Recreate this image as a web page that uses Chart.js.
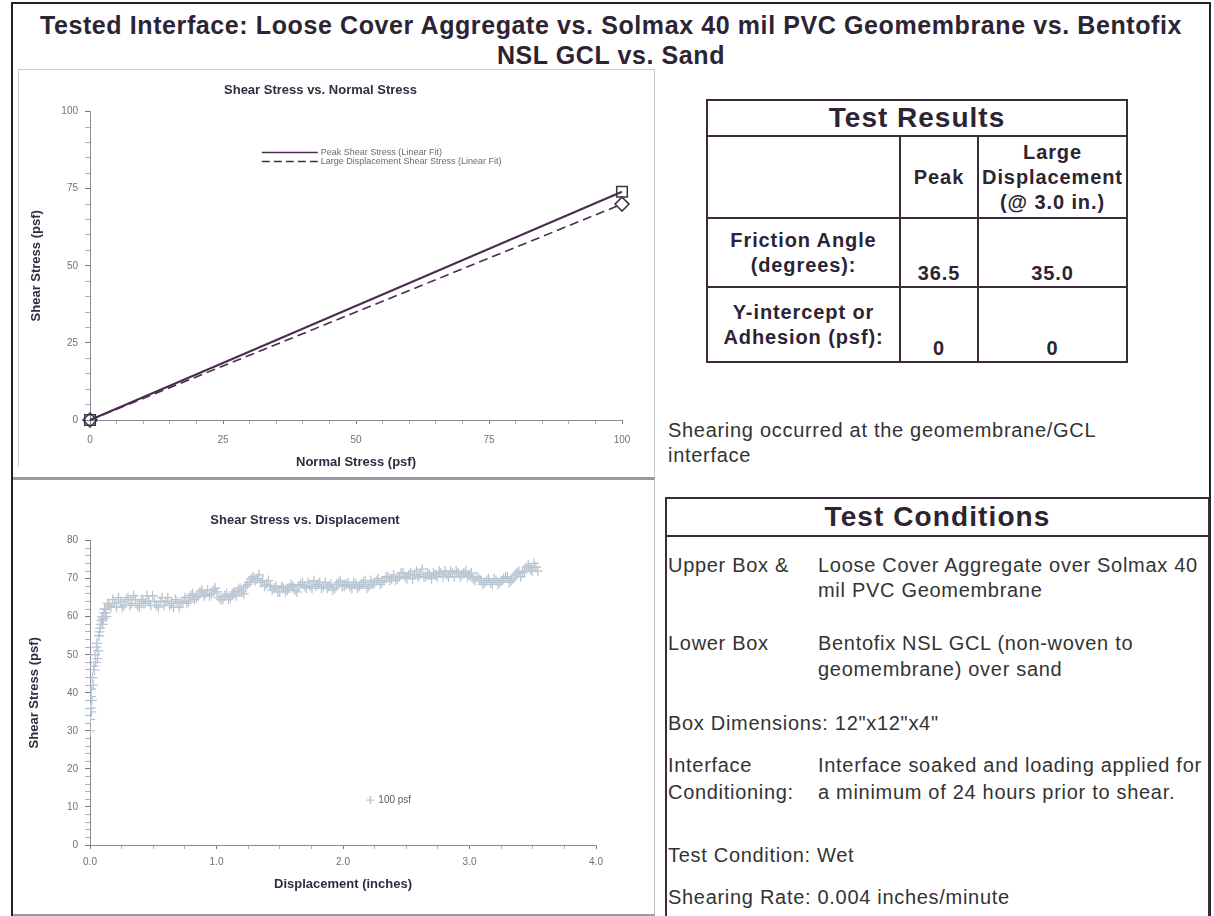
<!DOCTYPE html>
<html>
<head>
<meta charset="utf-8">
<script src="https://cdn.jsdelivr.net/npm/chart.js@4.4.1/dist/chart.umd.min.js"></script>
<style>
body { margin:0; width:1214px; height:916px; background:#fff; overflow:hidden; position:relative;
       font-family:"Liberation Sans", Arial, sans-serif; color:#333; }
.frame { position:absolute; left:11px; top:2px; width:1196px; height:940px; border:2px solid #222; border-bottom:none; }
.title { position:absolute; left:12px; width:1198px; top:10px; text-align:center; font-weight:bold;
         font-size:25px; letter-spacing:0.6px; line-height:30px; color:#2d2433; }
.panelTop { position:absolute; left:18px; top:69px; width:636px; height:397px; border:1px solid #c9c9d2; border-right:none; border-bottom:none; }
.panelBottom { position:absolute; left:13px; top:477px; width:641px; height:434px; border-top:3px solid #9a9aa6; border-right:1px solid #b8b8c4; border-bottom:2px solid #9a9aa6; }
.vline { position:absolute; left:654px; top:69px; width:1px; height:409px; background:#c9c9d2; }
.chartBox { position:absolute; }
table.results { position:absolute; left:706px; top:99px; border-collapse:collapse; table-layout:fixed; color:#2d2433; }
table.results td, table.results th { border:2px solid #3b2b3b; padding:0; text-align:center; font-weight:bold;
       font-size:20px; letter-spacing:0.9px; line-height:25px; white-space:nowrap; }
table.results th { font-size:28px; letter-spacing:1px; height:34px; line-height:32px; }
.r2 td { height:80px; }
.r3 td { height:67px; }
.r4 td { height:73px; }
td.v { vertical-align:bottom; padding-bottom:9px; }
.note { position:absolute; left:668px; font-size:20px; letter-spacing:0.7px; line-height:26px; color:#333; white-space:nowrap; }
.cond { position:absolute; left:665px; top:497px; width:541px; height:440px; border:2px solid #3b2b3b; border-bottom:none; }
.condHead { height:36px; border-bottom:2px solid #3b2b3b; text-align:center; font-weight:bold; font-size:28px;
            letter-spacing:1.1px; line-height:36px; color:#2d2433; }
.c2 { left:818px; }
</style>
</head>
<body>
<div class="frame"></div>
<div class="title">Tested Interface: Loose Cover Aggregate vs. Solmax 40 mil PVC Geomembrane vs. Bentofix<br>NSL GCL vs. Sand</div>

<div class="panelTop"></div>
<div class="vline"></div>
<div class="panelBottom"></div>

<div class="chartBox" style="left:19px; top:70px; width:635px; height:402px;"><canvas id="fitChart"></canvas></div>
<div class="chartBox" style="left:14px; top:481px; width:640px; height:431px;"><canvas id="dispChart"></canvas></div>

<table class="results">
  <colgroup><col style="width:193px"><col style="width:78px"><col style="width:149px"></colgroup>
  <tr><th colspan="3">Test Results</th></tr>
  <tr class="r2"><td></td><td>Peak</td><td>Large<br>Displacement<br>(@ 3.0 in.)</td></tr>
  <tr class="r3"><td>Friction Angle<br>(degrees):</td><td class="v">36.5</td><td class="v">35.0</td></tr>
  <tr class="r4"><td>Y-intercept or<br>Adhesion (psf):</td><td class="v">0</td><td class="v">0</td></tr>
</table>

<div class="note" style="top:417px;">Shearing occurred at the geomembrane/GCL</div>
<div class="note" style="top:442px;">interface</div>

<div class="cond"><div class="condHead">Test Conditions</div></div>
<div class="note" style="top:552px;">Upper Box &amp;</div>
<div class="note c2" style="top:552px;">Loose Cover Aggregate over Solmax 40</div>
<div class="note c2" style="top:577px;">mil PVC Geomembrane</div>
<div class="note" style="top:630px;">Lower Box</div>
<div class="note c2" style="top:630px;">Bentofix NSL GCL (non-woven to</div>
<div class="note c2" style="top:656px;">geomembrane) over sand</div>
<div class="note" style="top:710px;">Box Dimensions: 12"x12"x4"</div>
<div class="note" style="top:752px;">Interface</div>
<div class="note" style="top:779px;">Conditioning:</div>
<div class="note c2" style="top:752px;">Interface soaked and loading applied for</div>
<div class="note c2" style="top:779px;">a minimum of 24 hours prior to shear.</div>
<div class="note" style="top:842px;">Test Condition: Wet</div>
<div class="note" style="top:884px;">Shearing Rate: 0.004 inches/minute</div>

<script>
// shear vs normal stress (linear fits)
const normalStress = [0, 100];
const peakShear = [0, 74];
const largeDispShear = [0, 70];

// shear stress vs displacement, 100 psf normal load (two interleaved passes of readings)
const displacement = [
  0.00, 0.005, 0.01, 0.015, 0.02, 0.03, 0.04, 0.05, 0.06, 0.07, 0.08, 0.09, 0.10, 0.11, 0.12, 0.13,
  0.15, 0.18, 0.21, 0.24, 0.27, 0.30, 0.33, 0.36, 0.39, 0.42, 0.45, 0.48, 0.51, 0.54, 0.57, 0.60,
  0.63, 0.66, 0.69, 0.72, 0.75, 0.78, 0.81, 0.84, 0.87, 0.90, 0.93, 0.96, 0.99, 1.02, 1.05, 1.08,
  1.11, 1.14, 1.17, 1.20, 1.23, 1.26, 1.29, 1.32, 1.35, 1.38, 1.41, 1.44, 1.47, 1.50, 1.53, 1.56,
  1.59, 1.62, 1.65, 1.68, 1.71, 1.74, 1.77, 1.80, 1.83, 1.86, 1.89, 1.92, 1.95, 1.98, 2.01, 2.04,
  2.07, 2.10, 2.13, 2.16, 2.19, 2.22, 2.25, 2.28, 2.31, 2.34, 2.37, 2.40, 2.43, 2.46, 2.49, 2.52,
  2.55, 2.58, 2.61, 2.64, 2.67, 2.70, 2.73, 2.76, 2.79, 2.82, 2.85, 2.88, 2.91, 2.94, 2.97, 3.00,
  3.03, 3.06, 3.09, 3.12, 3.15, 3.18, 3.21, 3.24, 3.27, 3.30, 3.33, 3.36, 3.39, 3.42, 3.45, 3.48,
  3.51, 3.54,
  0.002, 0.008, 0.012, 0.025, 0.035, 0.045, 0.055, 0.065, 0.075, 0.085, 0.095, 0.105, 0.115, 0.125, 0.14,
  0.165, 0.195, 0.225, 0.255, 0.285, 0.315, 0.345, 0.375, 0.405, 0.435,
  0.465, 0.495, 0.525, 0.555, 0.585, 0.615, 0.645, 0.675, 0.705, 0.735,
  0.765, 0.795, 0.825, 0.855, 0.885, 0.915, 0.945, 0.975, 1.005, 1.035,
  1.065, 1.095, 1.125, 1.155, 1.185, 1.215, 1.245, 1.275, 1.305, 1.335,
  1.365, 1.395, 1.425, 1.455, 1.485, 1.515, 1.545, 1.575, 1.605, 1.635,
  1.665, 1.695, 1.725, 1.755, 1.785, 1.815, 1.845, 1.875, 1.905, 1.935,
  1.965, 1.995, 2.025, 2.055, 2.085, 2.115, 2.145, 2.175, 2.205, 2.235,
  2.265, 2.295, 2.325, 2.355, 2.385, 2.415, 2.445, 2.475, 2.505, 2.535,
  2.565, 2.595, 2.625, 2.655, 2.685, 2.715, 2.745, 2.775, 2.805, 2.835,
  2.865, 2.895, 2.925, 2.955, 2.985, 3.015, 3.045, 3.075, 3.105, 3.135,
  3.165, 3.195, 3.225, 3.255, 3.285, 3.315, 3.345, 3.375, 3.405, 3.435,
  3.465, 3.495, 3.525
];
const shearStress = [
  30, 36, 41, 38, 44, 47, 50, 52, 49, 55, 57, 59, 58, 61, 62, 60,
  63, 64.5, 62.5, 64, 63, 65, 63.5, 64.5, 62.5, 64, 65.5, 63, 64, 62.5, 65, 64,
  63, 62.5, 64, 63.5, 65, 64, 66, 65, 66.5, 65.5, 67, 66, 67.5, 65, 64.5, 66,
  65, 66.5, 67, 66.5, 68, 69, 70.5, 70, 69, 68, 69.5, 67, 68, 66.5, 67.5, 67,
  68.5, 67, 68, 69, 67.5, 68, 69.5, 68.5, 67.5, 69, 68, 67, 68.5, 69.5, 68, 69,
  67.5, 68.5, 68, 69, 67.5, 69.5, 69, 70, 69, 70.5, 69.5, 71, 70, 71.5, 70.5, 71,
  70, 72, 71, 70.5, 71.5, 70, 71, 72, 70.5, 71, 72, 70.5, 71.5, 71, 72, 71,
  70, 70.5, 69.5, 69, 70, 68.5, 69.5, 69, 70, 70.5, 69.5, 71, 72, 71.5, 73, 72.5,
  74, 72,
  33, 39, 35, 42, 46, 48, 53, 51, 56, 58, 60, 59.5, 62, 61, 63.5,
  62.5, 63.5, 65, 62.5, 64.5, 63, 65.5, 63, 64.5, 63.5,
  64, 65.5, 63, 64, 63, 65, 63.5, 64.5, 62.5, 64,
  63.5, 65.5, 64.5, 65.5, 67, 66, 65.5, 67, 66.5, 64.5,
  65.5, 64.5, 66, 65.5, 67.5, 66, 68.5, 70, 69.5, 71,
  69.5, 68.5, 68, 67.5, 66.5, 68, 66.5, 67.5, 68, 66.5,
  68.5, 68, 69, 67.5, 68, 69, 68, 67.5, 68.5, 67.5,
  69, 68, 68.5, 68, 69, 67.5, 68.5, 69.5, 68, 68.5,
  69.5, 68.5, 69.5, 70.5, 70, 69.5, 70.5, 71.5, 70, 71.5,
  71, 70.5, 72.5, 70.5, 71, 71.5, 70.5, 71.5, 72, 70.5,
  71.5, 72, 70.5, 71.5, 70.5, 71.5, 69.5, 70, 68.5, 69.5,
  69, 70, 68.5, 69.5, 70.5, 69, 70, 71.5, 70.5, 72,
  73.5, 72, 73
];

const inkColor = '#4a2d4e';
const tickColor = '#70707a';
const titleColor = '#35293f';
const scatterColor = '#b9c5d2';
const fontFamily = '"Liberation Sans", Arial, sans-serif';

// legend drawn inside the plot, anchored on data coordinates
const insideLegend = {
  id: 'insideLegend',
  afterDatasetsDraw(chart, args, opts) {
    if (!opts.items) return;
    const ctx = chart.ctx;
    const xs = chart.scales.x, ys = chart.scales.y;
    ctx.save();
    ctx.font = opts.font;
    ctx.textBaseline = 'middle';
    opts.items.forEach(item => {
      const px = xs.getPixelForValue(item.x);
      const py = ys.getPixelForValue(item.y);
      ctx.strokeStyle = item.color;
      ctx.lineWidth = item.lineWidth;
      if (item.kind === 'line') {
        ctx.setLineDash(item.dash || []);
        ctx.beginPath();
        ctx.moveTo(px, py);
        ctx.lineTo(px + opts.sampleWidth, py);
        ctx.stroke();
        ctx.setLineDash([]);
        ctx.fillStyle = opts.color;
        ctx.fillText(item.text, px + opts.sampleWidth + 3, py);
      } else {
        ctx.beginPath();
        ctx.moveTo(px - 4, py); ctx.lineTo(px + 4, py);
        ctx.moveTo(px, py - 4); ctx.lineTo(px, py + 4);
        ctx.stroke();
        ctx.fillStyle = opts.color;
        ctx.fillText(item.text, px + 8, py);
      }
    });
    ctx.restore();
  }
};

function axisTitle(text, padding) {
  return { display: true, text: text, color: titleColor, padding: padding,
           font: { family: fontFamily, size: 13, weight: 'bold' } };
}

new Chart(document.getElementById('fitChart'), {
  type: 'line',
  plugins: [insideLegend],
  data: {
    datasets: [
      {
        label: 'Peak Shear Stress (Linear Fit)',
        data: normalStress.map((x, i) => ({ x: x, y: peakShear[i] })),
        borderColor: inkColor,
        borderWidth: 2,
        pointStyle: 'rect',
        pointRadius: 7.5,
        pointBorderColor: '#3c3448',
        pointBackgroundColor: 'rgba(0,0,0,0)',
        pointBorderWidth: 1.5,
        clip: false
      },
      {
        label: 'Large Displacement Shear Stress (Linear Fit)',
        data: normalStress.map((x, i) => ({ x: x, y: largeDispShear[i] })),
        borderColor: inkColor,
        borderWidth: 1.6,
        borderDash: [9, 5],
        pointStyle: 'rectRot',
        pointRadius: 7,
        pointBorderColor: '#3c3448',
        pointBackgroundColor: 'rgba(0,0,0,0)',
        pointBorderWidth: 1.5,
        clip: false
      }
    ]
  },
  options: {
    responsive: true,
    maintainAspectRatio: false,
    animation: false,
    layout: { padding: { right: 32 } },
    plugins: {
      legend: { display: false },
      tooltip: { enabled: false },
      title: {
        display: true,
        text: 'Shear Stress vs. Normal Stress',
        color: titleColor,
        font: { family: fontFamily, size: 13, weight: 'bold' },
        padding: { top: 13, bottom: 13 }
      },
      insideLegend: {
        font: '9px ' + fontFamily,
        color: '#6a6a72',
        sampleWidth: 56,
        items: [
          { kind: 'line', text: 'Peak Shear Stress (Linear Fit)', x: 32.3, y: 86.7, color: inkColor, lineWidth: 1.5 },
          { kind: 'line', text: 'Large Displacement Shear Stress (Linear Fit)', x: 32.3, y: 83.8, color: inkColor, lineWidth: 1.5, dash: [8, 4] }
        ]
      }
    },
    scales: {
      x: {
        type: 'linear',
        min: 0, max: 100,
        afterFit: scale => { scale.height = 52; },
        border: { color: '#8a8a98' },
        grid: { drawOnChartArea: false, tickLength: 4,
                tickColor: c => c.tick && c.tick.value % 25 === 0 ? '#777' : '#b0b0b8' },
        ticks: { stepSize: 5, autoSkip: false, maxRotation: 0, padding: 10, color: tickColor,
                 font: { family: fontFamily, size: 10 },
                 callback: v => v % 25 === 0 ? v : '' },
        title: axisTitle('Normal Stress (psf)', { top: 0, bottom: 2 })
      },
      y: {
        type: 'linear',
        min: 0, max: 100,
        afterFit: scale => { scale.width = 71; },
        border: { color: '#8a8a98' },
        grid: { drawOnChartArea: false, tickLength: 5,
                tickColor: c => c.tick && c.tick.value % 25 === 0 ? '#777' : '#b0b0b8' },
        ticks: { stepSize: 5, autoSkip: false, padding: 7, color: tickColor,
                 font: { family: fontFamily, size: 10 },
                 callback: v => v % 25 === 0 ? v : '' },
        title: axisTitle('Shear Stress (psf)', { top: 10, bottom: 0 })
      }
    }
  }
});

new Chart(document.getElementById('dispChart'), {
  type: 'scatter',
  plugins: [insideLegend],
  data: {
    datasets: [{
      label: '100 psf',
      data: displacement.map((x, i) => ({ x: x, y: shearStress[i] })),
      pointStyle: 'cross',
      pointRadius: 5,
      borderColor: scatterColor,
      backgroundColor: scatterColor,
      pointBorderWidth: 1.3
    }]
  },
  options: {
    responsive: true,
    maintainAspectRatio: false,
    animation: false,
    layout: { padding: { right: 58 } },
    plugins: {
      legend: { display: false },
      tooltip: { enabled: false },
      title: {
        display: true,
        text: 'Shear Stress vs. Displacement',
        color: titleColor,
        font: { family: fontFamily, size: 13, weight: 'bold' },
        padding: { top: 32, bottom: 12 }
      },
      insideLegend: {
        font: '10px ' + fontFamily,
        color: '#5a5a62',
        items: [
          { kind: 'marker', text: '100 psf', x: 2.216, y: 11.8, color: scatterColor, lineWidth: 1.4 }
        ]
      }
    },
    scales: {
      x: {
        type: 'linear',
        min: 0, max: 4,
        afterFit: scale => { scale.height = 67; },
        border: { color: '#8a8a98' },
        grid: { drawOnChartArea: false, tickLength: 4,
                tickColor: c => c.tick && Number.isInteger(c.tick.value) ? '#777' : '#b0b0b8' },
        ticks: { stepSize: 0.25, autoSkip: false, maxRotation: 0, padding: 7, color: tickColor,
                 font: { family: fontFamily, size: 10 },
                 callback: v => Number.isInteger(v) ? v.toFixed(1) : '' },
        title: axisTitle('Displacement (inches)', { top: 0, bottom: 20 })
      },
      y: {
        type: 'linear',
        min: 0, max: 80,
        afterFit: scale => { scale.width = 76; },
        border: { color: '#8a8a98' },
        grid: { drawOnChartArea: false, tickLength: 5,
                tickColor: c => c.tick && c.tick.value % 10 === 0 ? '#777' : '#b0b0b8' },
        ticks: { stepSize: 2, autoSkip: false, padding: 7, color: tickColor,
                 font: { family: fontFamily, size: 10 },
                 callback: v => v % 10 === 0 ? v : '' },
        title: axisTitle('Shear Stress (psf)', { top: 13, bottom: 0 })
      }
    }
  }
});
</script>
</body>
</html>
